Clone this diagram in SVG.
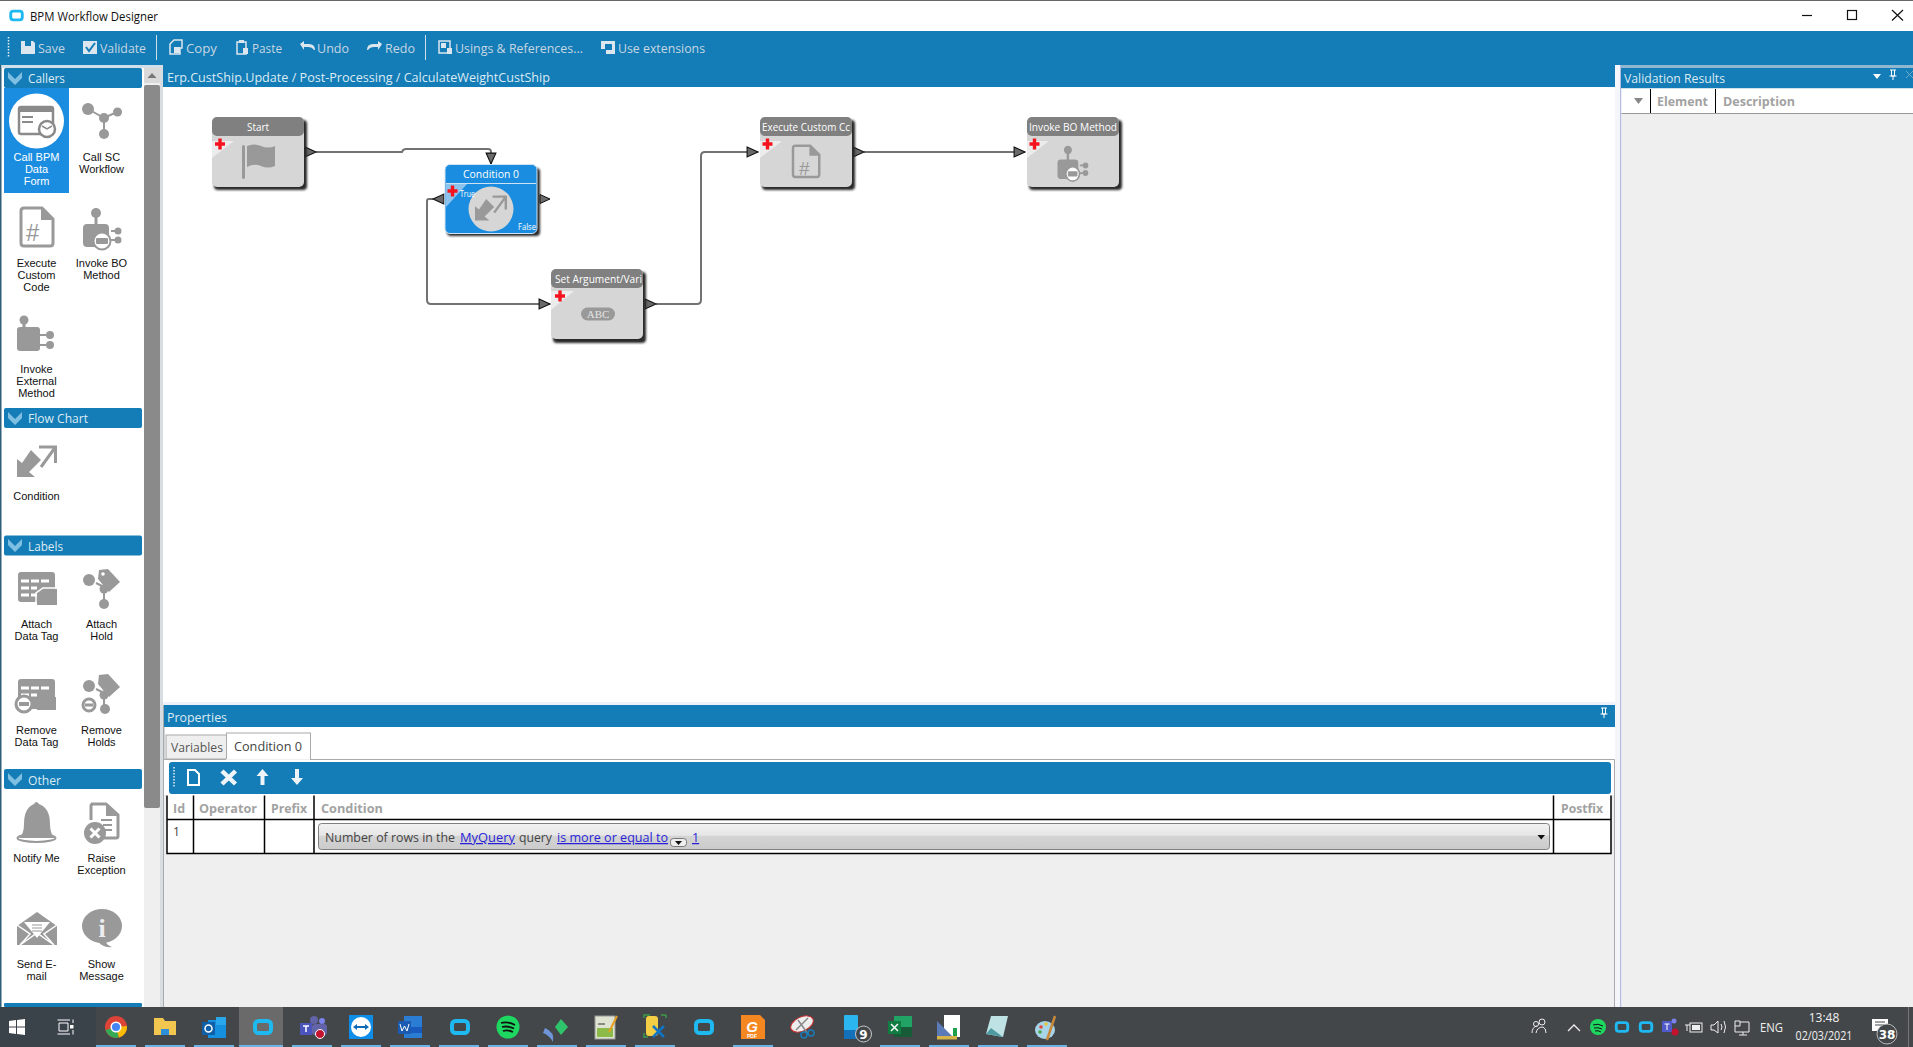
<svg xmlns="http://www.w3.org/2000/svg" width="1913" height="1047" viewBox="0 0 1913 1047">
<defs>
<style>
text{font-family:"Open Sans","Noto Sans","Liberation Sans",sans-serif}
text.sans{font-family:"Liberation Sans",Arial,sans-serif}
text.serif{font-family:"Liberation Serif","Times New Roman",serif}
text.mono{font-family:"DejaVu Sans",sans-serif}
.bar{fill:#147cb6}
.tb{font-size:13px;fill:#c6d7e3}
.hd{font-size:13px;fill:#dcebf4}
text.pal{font-family:"Liberation Sans",Arial,sans-serif;font-size:11px;fill:#111;text-anchor:middle}
text.pals{font-family:"Liberation Sans",Arial,sans-serif;font-size:11px;fill:#fff;text-anchor:middle}
.th{font-size:12.5px;font-weight:700;fill:#a2a2a2}
.ntitle{font-size:11.5px;fill:#fff}
.ic{fill:#999}
.ico{fill:none;stroke:#999;stroke-width:3}
.tbi{fill:#dbe6ee}
.tl{fill:none;stroke:#000;stroke-width:1.5}
.link{fill:#2a1fd8;text-decoration:underline}
.conn{fill:none;stroke:#727272;stroke-width:2;marker-start:url(#tri);marker-end:url(#tri)}
.port{fill:#6a6a6a;stroke:#111;stroke-width:1}
.cross{fill:#f5141e}
.tray{font-size:12px;fill:#f0f0f0}
.uline{fill:#6bb5e6}
.cyan{fill:none;stroke:#1db9f0;stroke-width:4}
</style>
<marker id="tri" markerUnits="userSpaceOnUse" markerWidth="12" markerHeight="12" refX="10" refY="5" orient="auto" viewBox="0 0 11 10" overflow="visible"><path d="M0 0.5L10 5L0 9.5Z" fill="#6a6a6a" stroke="#111" stroke-width="1"/></marker>
<filter id="sh" x="-10%" y="-10%" width="120%" height="120%"><feGaussianBlur stdDeviation="1"/></filter>
<linearGradient id="combo" x1="0" y1="0" x2="0" y2="1"><stop offset="0" stop-color="#f2f2f2"/><stop offset="0.45" stop-color="#e6e6e6"/><stop offset="0.5" stop-color="#d4d4d4"/><stop offset="1" stop-color="#cbcbcb"/></linearGradient>
<g id="cross"><path class="cross" d="M-1.7 -5.5H1.7V-1.7H5V1.7H1.7V5.5H-1.7V1.7H-5V-1.7H-1.7Z"/></g>
<g id="chev"><path d="M0 0L7 7L14 0V6L7 13L0 6Z" fill="#7fc0e2"/></g>
<g id="condI"><path class="ic" d="M0 14L5 18L14 5L24 15L12 27L18 32H0Z"/><path d="M22 2H38.5V18M38.5 2L24 22" fill="none" stroke="#999" stroke-width="3"/></g>
<g id="docI"><path d="M3 1H21L32 12V36Q32 39 29 39H3Q0 39 0 36V4Q0 1 3 1Z" fill="none" stroke="#999" stroke-width="3"/><path class="ic" d="M20 0L33 13H20Z"/></g>
<g id="boI"><circle class="ic" cx="13" cy="6" r="5"/><rect class="ic" x="11.500" y="10" width="3" height="8"/><path class="ic" d="M4 17H22Q26 17 26 21V30H12V40H4Q0 40 0 36V21Q0 17 4 17Z"/><circle cx="19" cy="34" r="8.500" fill="#fff" stroke="#999" stroke-width="2"/><rect class="ic" x="13" y="31" width="12" height="6" rx="1"/><path d="M28 24H32M28 33H32" stroke="#999" stroke-width="2"/><circle class="ic" cx="35" cy="24" r="3.500"/><circle class="ic" cx="35" cy="33" r="3.500"/></g>
<g id="cyanI"><rect class="cyan" x="-8" y="-6" width="16" height="12" rx="3.500"/></g>
</defs>

<rect width="1913" height="1047" fill="#fff"/>
<rect width="1913" height="1" fill="#666"/>
<g id="titlebar">
<use href="#cyanI" transform="translate(16.500,15.500) scale(.72)"/>
<text x="30" y="20.500" font-size="13" fill="#111" textLength="128" lengthAdjust="spacingAndGlyphs">BPM Workflow Designer</text>
<path d="M1802 15.500H1812" stroke="#111" stroke-width="1.200"/>
<rect x="1847.500" y="10.500" width="9" height="9" fill="none" stroke="#111" stroke-width="1.200"/>
<path d="M1892 10L1903 20.500M1903 10L1892 20.500" stroke="#111" stroke-width="1.200"/>
</g>

<rect class="bar" x="0" y="31" width="1913" height="34"/>
<rect class="bar" x="163" y="65" width="1452" height="22"/>
<rect x="0" y="65" width="163" height="942" fill="#fff"/>
<rect x="0" y="65" width="1.500" height="942" fill="#2f5f78"/>
<rect x="1.500" y="65" width="161" height="3" fill="#cfe0ea"/>
<rect x="160" y="65" width="3" height="942" fill="#d8dde2"/>

<g id="toolbar">
<path d="M8.500 37V57" stroke="#e8eef2" stroke-width="1.500" stroke-dasharray="1.500 1.500"/>
<path class="tbi" d="M21 41H33L35 43V54H21Z"/><rect x="25" y="41" width="6" height="5" fill="#147cb6"/>
<text class="tb" x="38" y="53" textLength="27" lengthAdjust="spacingAndGlyphs">Save</text>
<rect class="tbi" x="83" y="41" width="14" height="13"/><path d="M86 47L89 51L95 43" fill="none" stroke="#147cb6" stroke-width="2"/>
<text class="tb" x="100" y="53" textLength="46" lengthAdjust="spacingAndGlyphs">Validate</text>
<path d="M156.500 35V60" stroke="#cfe0ea"/>
<path d="M170 44L174 40H182V48H180V54H170Z" fill="none" stroke="#dbe6ee" stroke-width="1.500"/><rect class="tbi" x="174" y="47" width="6" height="6"/>
<text class="tb" x="186" y="53" textLength="31" lengthAdjust="spacingAndGlyphs">Copy</text>
<rect x="237" y="42" width="9" height="12" fill="none" stroke="#dbe6ee" stroke-width="1.500"/><rect class="tbi" x="239" y="40" width="5" height="3"/><rect class="tbi" x="243" y="48" width="5" height="6"/>
<text class="tb" x="252" y="53" textLength="30" lengthAdjust="spacingAndGlyphs">Paste</text>
<path class="tbi" d="M300 44L304 41V44H309Q315 44 315 50L314 50Q312 47 308 47H304V50Z"/>
<text class="tb" x="317" y="53" textLength="32" lengthAdjust="spacingAndGlyphs">Undo</text>
<path class="tbi" d="M382 44L378 41V44H373Q367 44 367 50L368 50Q370 47 374 47H378V50Z"/>
<text class="tb" x="385" y="53" textLength="30" lengthAdjust="spacingAndGlyphs">Redo</text>
<path d="M425.500 35V60" stroke="#cfe0ea"/>
<rect x="439" y="41" width="11" height="12" fill="none" stroke="#dbe6ee" stroke-width="1.500"/><path class="tbi" d="M441 43H446V48H441ZM447 48H452V54H447Z"/>
<text class="tb" x="455" y="53" textLength="128" lengthAdjust="spacingAndGlyphs">Usings &amp; References...</text>
<path class="tbi" d="M601 41H615V54H606V49H601Z"/><rect x="605" y="44" width="7" height="6" fill="#147cb6"/>
<text class="tb" x="618" y="53" textLength="87" lengthAdjust="spacingAndGlyphs">Use extensions</text>
</g>
<text class="hd" x="167" y="81.500" textLength="383" lengthAdjust="spacingAndGlyphs">Erp.CustShip.Update / Post-Processing / CalculateWeightCustShip</text>

<g id="palette">
<rect x="144" y="68" width="16" height="939" fill="#efefef"/>
<rect x="144" y="68" width="16" height="15" fill="#d9d9d9"/><path d="M147.500 78L152 73L156.500 78Z" fill="#777"/>
<rect x="144" y="85" width="16" height="723" rx="2" fill="#8a8a8a"/>
<g id="grp-callers"><rect class="bar" x="4" y="68" width="138" height="20" rx="2"/><use href="#chev" x="8" y="72"/><text class="hd" x="28" y="83" textLength="37" lengthAdjust="spacingAndGlyphs">Callers</text></g>
<g id="grp-flow"><rect class="bar" x="4" y="408" width="138" height="20" rx="2"/><use href="#chev" x="8" y="412"/><text class="hd" x="28" y="423" textLength="60" lengthAdjust="spacingAndGlyphs">Flow Chart</text></g>
<g id="grp-labels"><rect class="bar" x="4" y="535.500" width="138" height="20" rx="2"/><use href="#chev" x="8" y="539"/><text class="hd" x="28" y="551" textLength="35" lengthAdjust="spacingAndGlyphs">Labels</text></g>
<g id="grp-other"><rect class="bar" x="4" y="769" width="138" height="20" rx="2"/><use href="#chev" x="8" y="773"/><text class="hd" x="28" y="785" textLength="33" lengthAdjust="spacingAndGlyphs">Other</text></g>
<rect class="bar" x="4" y="1003" width="138" height="4" rx="1"/>

<g id="pal-callbpm"><rect x="4" y="88" width="65" height="105" fill="#1a8de0"/><ellipse cx="36.500" cy="121" rx="27.500" ry="27.500" fill="#fff"/>
<rect x="19" y="107" width="34" height="27" rx="2" fill="none" stroke="#8a8a8a" stroke-width="2.500"/><rect x="19" y="107" width="34" height="5" fill="#8a8a8a"/><path d="M22 117H33M22 122H33" stroke="#8a8a8a" stroke-width="2"/><circle cx="47" cy="129" r="8" fill="#fff" stroke="#8a8a8a" stroke-width="2.500"/><path d="M42 126L47 129L52 126" fill="none" stroke="#8a8a8a" stroke-width="1.500"/>
<text class="pals" x="36.500" y="161">Call BPM</text><text class="pals" x="36.500" y="173">Data</text><text class="pals" x="36.500" y="185">Form</text></g>
<g id="pal-callsc"><path d="M88 109L104 118L117 112M104 118V134" fill="none" stroke="#999" stroke-width="2"/><circle class="ic" cx="88" cy="109" r="6"/><circle class="ic" cx="117.500" cy="112" r="4.500"/><circle class="ic" cx="104" cy="118" r="5"/><circle class="ic" cx="104" cy="134" r="5"/>
<text class="pal" x="101.500" y="161">Call SC</text><text class="pal" x="101.500" y="173">Workflow</text></g>
<g id="pal-exec"><use href="#docI" transform="translate(21,207)"/><text class="sans" x="26" y="241" font-size="24" fill="#999">#</text>
<text class="pal" x="36.500" y="267">Execute</text><text class="pal" x="36.500" y="279">Custom</text><text class="pal" x="36.500" y="291">Code</text></g>
<g id="pal-invbo"><use href="#boI" transform="translate(83,207)"/><text class="pal" x="101.500" y="267">Invoke BO</text><text class="pal" x="101.500" y="279">Method</text></g>
<g id="pal-invext"><circle class="ic" cx="24" cy="320" r="4.500"/><rect class="ic" x="22.500" y="322" width="3" height="6"/><rect class="ic" x="17" y="327" width="23" height="24" rx="3"/><path d="M40 335H46M40 345H46" stroke="#999" stroke-width="2"/><circle class="ic" cx="50" cy="335" r="4"/><circle class="ic" cx="50" cy="345" r="4"/>
<text class="pal" x="36.500" y="373">Invoke</text><text class="pal" x="36.500" y="385">External</text><text class="pal" x="36.500" y="397">Method</text></g>
<g id="pal-cond"><use href="#condI" transform="translate(17,445)"/><text class="pal" x="36.500" y="500">Condition</text></g>
<g id="pal-adt"><rect x="18" y="572" width="37" height="30" rx="3" class="ic"/><path d="M21 581H51M21 588H37M21 595H37" stroke="#fff" stroke-width="3" stroke-dasharray="8 2"/><path class="ic" d="M37 594L43 589H57V605H37Z"/><path d="M36 606V593L43 588H58" fill="none" stroke="#fff" stroke-width="1.500"/><text class="pal" x="36.500" y="628">Attach</text><text class="pal" x="36.500" y="640">Data Tag</text></g>
<g id="pal-ah"><circle class="ic" cx="89" cy="580" r="6"/><path d="M96 583L104 587M104 590V602" stroke="#999" stroke-width="2"/><circle class="ic" cx="104" cy="589" r="4.500"/><circle class="ic" cx="104" cy="604" r="5"/><path class="ic" d="M99 570L108 569L120 582L109 592L98 579Z"/><circle cx="103" cy="574" r="1.800" fill="#fff"/><text class="pal" x="101.500" y="628">Attach</text><text class="pal" x="101.500" y="640">Hold</text></g>
<g id="pal-rdt"><rect x="18" y="679" width="37" height="30" rx="3" class="ic"/><path d="M21 688H51M21 695H37" stroke="#fff" stroke-width="3" stroke-dasharray="8 2"/><rect class="ic" x="37" y="697" width="19" height="13"/><circle cx="24" cy="704" r="8" fill="#fff" stroke="#999" stroke-width="3"/><rect class="ic" x="19" y="702" width="10" height="4"/><text class="pal" x="36.500" y="734">Remove</text><text class="pal" x="36.500" y="746">Data Tag</text></g>
<g id="pal-rh"><circle class="ic" cx="89" cy="686" r="6"/><path d="M96 689L104 693M104 696V706" stroke="#999" stroke-width="2"/><circle class="ic" cx="104" cy="695" r="4.500"/><circle class="ic" cx="105" cy="709" r="5"/><path class="ic" d="M99 675L108 674L120 687L109 697L98 684Z"/><circle cx="89" cy="705" r="6" fill="#fff" stroke="#999" stroke-width="3"/><rect class="ic" x="85" y="703.500" width="8" height="3"/><text class="pal" x="101.500" y="734">Remove</text><text class="pal" x="101.500" y="746">Holds</text></g>
<g id="pal-notify"><path class="ic" d="M34 804Q36 800 39 804Q50 808 50 824Q50 834 55 838H19Q24 834 24 824Q24 808 34 804Z"/><ellipse cx="36.500" cy="838" rx="19" ry="4" fill="none" stroke="#999" stroke-width="2"/><text class="pal" x="36.500" y="862">Notify Me</text></g>
<g id="pal-raise"><path d="M91 804H106L118 815V836Q118 838 116 838H102M91 820V806Q91 804 93 804" fill="none" stroke="#999" stroke-width="3"/><path class="ic" d="M106 803L119 816H106Z"/><path d="M101 820H112M103 825H112M103 830H112" stroke="#999" stroke-width="2"/><circle class="ic" cx="95" cy="833" r="11"/><path d="M90.500 828.500L99.500 837.500M99.500 828.500L90.500 837.500" stroke="#fff" stroke-width="3"/><text class="pal" x="101.500" y="862">Raise</text><text class="pal" x="101.500" y="874">Exception</text></g>
<g id="pal-email"><path class="ic" d="M17 926L37 912L57 926V945H17Z"/><path d="M17 925L30 934L20 945M57 925L44 934L54 945M20 945L37 933L54 945" fill="none" stroke="#fff" stroke-width="1.500"/><path fill="#fff" d="M24 922H50L37 938Z"/><path d="M32 925H42M32 928H42M32 931H42" stroke="#999"/><text class="pal" x="36.500" y="968">Send E-</text><text class="pal" x="36.500" y="980">mail</text></g>
<g id="pal-msg"><ellipse class="ic" cx="102" cy="926" rx="20" ry="17"/><path class="ic" d="M105 940Q106 945 112 947Q102 948 98 941Z"/><text class="serif" x="102" y="937" font-size="26" font-weight="700" fill="#eee" text-anchor="middle">i</text><text class="pal" x="101.500" y="968">Show</text><text class="pal" x="101.500" y="980">Message</text></g>
</g>

<g id="connectors">
<path class="conn" d="M316 152H402Q403 149 406 149H488Q491 149 491 152V164"/>
<path class="conn" d="M433 199H429Q427 199 427 201V300Q427 304 431 304H550"/>
<path class="conn" d="M656 304H697Q701 304 701 300V156Q701 152 705 152H758"/>
<path class="conn" d="M864 152H1025"/>
</g>

<g id="node-start">
<rect x="214" y="120" width="93" height="70" rx="4" fill="#2a2a2a" filter="url(#sh)"/>
<rect x="212" y="117" width="92" height="70" rx="5" fill="#d6d6d6"/>
<path d="M212 158V141H234Z" fill="#ececec"/>
<rect x="212" y="117" width="92" height="19" rx="5" fill="#808080"/>
<text class="ntitle" x="247" y="131" textLength="22" lengthAdjust="spacingAndGlyphs">Start</text>
<use href="#cross" x="220" y="144"/>
<rect class="ic" x="242" y="145" width="3" height="34" rx="1.500"/><path class="ic" d="M247 146Q254 143 261 146Q268 149 275 146V166Q268 169 261 166Q254 163 247 167Z"/>
</g>

<g id="node-condition">
<rect x="447" y="168" width="93" height="68" rx="4" fill="#2a2a2a" filter="url(#sh)"/>
<rect x="445" y="164.500" width="92" height="69" rx="5" fill="#1a8de0" stroke="#cfe3f2"/>
<path d="M446 207V184H467Z" fill="#8cc4ee"/>
<path d="M446 183.500H536" stroke="#cde3f3" stroke-width="1"/>
<text class="ntitle" x="463" y="178" textLength="56" lengthAdjust="spacingAndGlyphs">Condition 0</text>
<use href="#cross" x="452.500" y="191"/>
<circle cx="491" cy="209" r="22.500" fill="#d6d6d6"/>
<use href="#condI" transform="translate(475,195) scale(.8)"/>
<text x="460" y="197" font-size="9" fill="#fff" textLength="15" lengthAdjust="spacingAndGlyphs">True</text>
<text x="518" y="230" font-size="9" fill="#fff" textLength="18" lengthAdjust="spacingAndGlyphs">False</text>
<path class="port" d="M540 194.500L550 199L540 203.500Z"/>
</g>

<g id="node-setarg">
<rect x="553" y="272" width="93" height="71" rx="4" fill="#2a2a2a" filter="url(#sh)"/>
<rect x="551" y="269" width="92" height="70" rx="5" fill="#d6d6d6"/>
<path d="M551 310V291H574Z" fill="#ececec"/>
<rect x="551" y="269" width="92" height="19" rx="5" fill="#808080"/>
<text class="ntitle" x="555" y="283" textLength="87" lengthAdjust="spacingAndGlyphs">Set Argument/Vari</text>
<use href="#cross" x="560" y="296"/>
<rect class="ic" x="581" y="307.500" width="34" height="13" rx="6.500"/>
<text class="serif" x="598" y="318" font-size="11" fill="#e3e3e3" text-anchor="middle">ABC</text>
</g>

<g id="node-exec">
<rect x="762" y="120" width="93" height="70" rx="4" fill="#2a2a2a" filter="url(#sh)"/>
<rect x="760" y="117" width="92" height="70" rx="5" fill="#d6d6d6"/>
<path d="M760 158V141H782Z" fill="#ececec"/>
<rect x="760" y="117" width="92" height="19" rx="5" fill="#808080"/>
<text class="ntitle" x="762" y="131" textLength="88" lengthAdjust="spacingAndGlyphs">Execute Custom Cc</text>
<use href="#cross" x="767.500" y="144"/>
<use href="#docI" transform="translate(793,145) scale(.82)"/>
<text class="sans" x="799" y="175" font-size="19" fill="#999">#</text>
</g>

<g id="node-invoke">
<rect x="1029" y="120" width="93" height="70" rx="4" fill="#2a2a2a" filter="url(#sh)"/>
<rect x="1027" y="117" width="92" height="70" rx="5" fill="#d6d6d6"/>
<path d="M1027 158V141H1049Z" fill="#ececec"/>
<rect x="1027" y="117" width="92" height="19" rx="5" fill="#808080"/>
<text class="ntitle" x="1029" y="131" textLength="88" lengthAdjust="spacingAndGlyphs">Invoke BO Method</text>
<use href="#cross" x="1034.500" y="144"/>
<use href="#boI" transform="translate(1057.500,145) scale(.8,.85)"/>
</g>

<g id="properties">
<rect x="163" y="702" width="1457" height="3" fill="#eef0fb"/>
<rect x="163" y="705" width="1452" height="302" fill="#fff"/>
<rect x="163" y="705" width="1.500" height="302" fill="#aaa"/>
<rect class="bar" x="164" y="705" width="1451" height="22"/>
<text class="hd" x="167" y="722" textLength="60" lengthAdjust="spacingAndGlyphs">Properties</text>
<path d="M1601 708H1607M1602.500 708V714H1605.500V708M1600.500 714H1607.500M1604 714V718" fill="none" stroke="#fff"/>
<rect x="166" y="735" width="61" height="24" fill="#efefef" stroke="#aaa"/>
<text x="171" y="752" font-size="13" fill="#555" textLength="52" lengthAdjust="spacingAndGlyphs">Variables</text>
<rect x="226.500" y="733" width="84" height="27" fill="#fff" stroke="#aaa"/>
<rect x="227.500" y="758" width="82.500" height="3" fill="#fff"/>
<text x="234" y="751" font-size="13" fill="#444" textLength="68" lengthAdjust="spacingAndGlyphs">Condition 0</text>
<rect x="164" y="759" width="1451" height="248" fill="#efefef"/>
<path d="M164 759.500H226M310 759.500H1614.500V1007" fill="none" stroke="#aaa"/>
<rect x="164" y="760" width="1450" height="35" fill="#fff"/>
<rect class="bar" x="169" y="762" width="1442" height="32" rx="3"/>
<path d="M174 767V788" stroke="#e8eef2" stroke-width="1.500" stroke-dasharray="1.500 1.500"/>
<path d="M188 770H195L199 774V785H188Z" fill="none" stroke="#fff" stroke-width="2"/>
<path d="M222 771L235.500 784M235.500 771L222 784" stroke="#eef4f8" stroke-width="4.500"/>
<path d="M262.500 769L268.500 776H264.500V785H260.500V776H256.500Z" fill="#eef4f8"/>
<path d="M297 785L303 778H299V769H295V778H291Z" fill="#eef4f8"/>
<rect x="167" y="795" width="1444" height="58.500" fill="#fff"/>
<path class="tl" d="M167 795.500V853.500H1611V795.500M193.500 795.500V853.500M264.500 795.500V853.500M314 795.500V853.500M1553.500 795.500V853.500M167 819.500H1611"/>
<text class="th" x="173" y="813">Id</text>
<text class="th" x="199" y="813" textLength="58" lengthAdjust="spacingAndGlyphs">Operator</text>
<text class="th" x="271" y="813" textLength="36" lengthAdjust="spacingAndGlyphs">Prefix</text>
<text class="th" x="321" y="813" textLength="62" lengthAdjust="spacingAndGlyphs">Condition</text>
<text class="th" x="1561" y="813" textLength="42" lengthAdjust="spacingAndGlyphs">Postfix</text>
<text x="173" y="836" font-size="12" fill="#444">1</text>
<rect x="318.500" y="823.500" width="1231" height="26" rx="3" fill="url(#combo)" stroke="#808080"/>
<text x="325" y="842" font-size="12.500" fill="#444" textLength="130" lengthAdjust="spacingAndGlyphs">Number of rows in the</text>
<text class="link" x="460" y="842" font-size="12.500" textLength="55" lengthAdjust="spacingAndGlyphs">MyQuery</text>
<text x="519" y="842" font-size="12.500" fill="#444" textLength="33" lengthAdjust="spacingAndGlyphs">query</text>
<text class="link" x="557" y="842" font-size="12.500" textLength="111" lengthAdjust="spacingAndGlyphs">is more or equal to</text>
<rect x="670.500" y="838.500" width="16" height="8" rx="3" fill="#eee" stroke="#777"/><path d="M675 841H682L678.500 845Z" fill="#111"/>
<text class="link" x="692" y="842" font-size="12.500">1</text>
<path d="M1537.500 835H1545L1541.250 839.500Z" fill="#111"/>
</g>

<g id="validation">
<rect x="1615" y="65" width="5" height="942" fill="#f5f6fc"/>
<rect x="1620" y="65" width="1.500" height="942" fill="#b4bde0"/>
<rect x="1621" y="65" width="292" height="3" fill="#8fb7cf"/>
<rect class="bar" x="1621" y="68" width="292" height="20"/>
<rect x="1621" y="88" width="292" height="1" fill="#cfe0ea"/>
<text class="hd" x="1624" y="83" textLength="101" lengthAdjust="spacingAndGlyphs">Validation Results</text>
<path d="M1873 74H1881L1877 79Z" fill="#fff"/>
<path d="M1890 70H1896M1891.500 70V76H1894.500V70M1889.500 76H1896.500M1893 76V80" fill="none" stroke="#fff"/>
<path d="M1906 71L1913 78M1913 71L1906 78" stroke="#6fa9cb"/>
<rect x="1621.500" y="89" width="291.500" height="24" fill="#fff"/>
<rect x="1621.500" y="113" width="291.500" height="894" fill="#efefef"/>
<path d="M1621.500 113.500H1913" stroke="#999"/>
<path d="M1650.500 89V113M1715.500 89V113" stroke="#000"/>
<path d="M1634 98H1643L1638.500 104Z" fill="#888"/>
<text class="th" x="1657" y="106" textLength="51" lengthAdjust="spacingAndGlyphs">Element</text>
<text class="th" x="1723" y="106" textLength="72" lengthAdjust="spacingAndGlyphs">Description</text>
</g>

<g id="taskbar">
<rect x="0" y="1007" width="1913" height="40" fill="#43474a"/>
<rect x="0" y="1007" width="96" height="40" fill="#3a434a"/>
<rect x="239" y="1007" width="44" height="40" fill="#6a6a6a"/>
<path d="M9 1021L16 1020V1026.500H9ZM17 1020L25 1019V1026.500H17ZM9 1027.500H16V1034L9 1033ZM17 1027.500H25V1035L17 1034Z" fill="#fff"/>
<path d="M57.500 1020H70M57.500 1034H70M59 1023H68V1031H59ZM73 1019.500V1023M73 1030V1034.500" fill="none" stroke="#fff"/><rect x="70" y="1025" width="3.500" height="3.500" fill="#fff"/>
<circle cx="116" cy="1027" r="11" fill="#db4437"/><path d="M116 1027L105.500 1030A11 11 0 0 0 119 1037.500Z" fill="#34a853"/><path d="M116 1027L119 1037.500A11 11 0 0 0 127 1026Z" fill="#fbbc05"/><circle cx="116" cy="1027" r="4.800" fill="#4285f4" stroke="#fff" stroke-width="1.500"/>
<path d="M154 1018H163L165 1021H176V1035H154Z" fill="#f3c64f"/><rect x="161" y="1029" width="8" height="6" fill="#2d8fd8"/>
<rect x="208" y="1020" width="18" height="18" fill="#1490df"/><rect x="216" y="1017" width="10" height="8" fill="#28a8ea"/><rect x="202" y="1022" width="13" height="13" fill="#0f5fa8"/><circle cx="208.500" cy="1028.500" r="3.500" fill="none" stroke="#fff" stroke-width="1.500"/>
<use href="#cyanI" x="263" y="1027"/>
<circle cx="322" cy="1021" r="3" fill="#7b83eb"/><circle cx="314" cy="1020" r="4" fill="#6264a7"/><rect x="312" y="1024" width="15" height="11" rx="3" fill="#6264a7"/><rect x="300" y="1023" width="12" height="12" fill="#4b53bc"/><path d="M303 1026H309M306 1026V1032" stroke="#fff" stroke-width="1.500"/><circle cx="320" cy="1034" r="4.500" fill="#c4122f" stroke="#fff"/>
<rect x="349" y="1015" width="24" height="24" fill="#0e8ee9"/><circle cx="361" cy="1027" r="10" fill="#fff"/><path d="M353 1027L357 1024V1026H365V1024L369 1027L365 1030V1028H357V1030Z" fill="#0e6bb8"/>
<rect x="404" y="1016" width="18" height="22" fill="#2b7cd3"/><rect x="404" y="1027" width="18" height="6" fill="#185abd"/><rect x="398" y="1021" width="13" height="13" fill="#1a5ab0"/><path d="M400 1024L402 1031L404.500 1026L407 1031L409 1024" fill="none" stroke="#fff"/>
<use href="#cyanI" x="460" y="1027"/>
<circle cx="508" cy="1027" r="11.500" fill="#1ed760"/><path d="M501 1023Q508 1021 515 1025M502 1027Q508 1025.500 514 1028.500M503 1031Q508 1029.500 513 1032" fill="none" stroke="#111" stroke-width="1.800"/>
<path d="M561 1019L568 1027L561 1035L555 1027Z" fill="#2fc46b"/><path d="M545 1028Q555 1032 553 1042Q549 1035 543 1033Z" fill="#6f95d8"/>
<rect x="595" y="1016" width="20" height="23" fill="#dfe3d2" stroke="#9a9a9a"/><rect x="597" y="1028" width="16" height="9" fill="#8dbb4a"/><path d="M598 1024H605" stroke="#333"/><path d="M617 1016L609 1032" stroke="#e8a020" stroke-width="2"/>
<rect x="646" y="1016" width="12" height="20" rx="3" fill="#f4cf45"/><path d="M644 1018V1015H650M666 1015V1018M661 1015H666M644 1033V1037H648" fill="none" stroke="#3d9a48" stroke-width="1.500"/><path d="M653 1037L664 1026M653 1026L664 1037" stroke="#1274c4" stroke-width="2.500"/>
<use href="#cyanI" x="704" y="1027"/>
<path d="M741 1015H760L765 1020V1039H741Z" fill="#f48720"/><text class="sans" x="752" y="1032" font-size="15" font-weight="700" font-style="italic" fill="#fff" text-anchor="middle">G</text><text class="sans" x="752" y="1038" font-size="5" font-weight="700" fill="#fff" text-anchor="middle">PDF</text>
<ellipse cx="802" cy="1024" rx="12" ry="7" transform="rotate(-25 802 1024)" fill="#eee" stroke="#c33" stroke-width="1"/><path d="M796 1030L808 1018M808 1034L798 1020" stroke="#888" stroke-width="1.500"/><circle cx="804" cy="1035" r="3" fill="none" stroke="#1c7ab8" stroke-width="1.500"/><circle cx="811" cy="1033" r="3" fill="none" stroke="#1c7ab8" stroke-width="1.500"/>
<rect x="844" y="1015" width="14" height="24" rx="1" fill="#2cb6ef"/><rect x="844" y="1030" width="14" height="9" fill="#1470b8"/>
<circle cx="863.500" cy="1034" r="8" fill="#43474a" stroke="#c8c8c8"/><text class="mono" x="863.500" y="1039" font-size="12" font-weight="700" fill="#fff" text-anchor="middle">9</text>
<rect x="894" y="1016" width="18" height="21" fill="#21a366"/><rect x="894" y="1027" width="18" height="10" fill="#185c37"/><rect x="888" y="1021" width="13" height="13" fill="#107c41"/><path d="M891 1024L898 1031M898 1024L891 1031" stroke="#fff" stroke-width="1.500"/>
<rect x="944" y="1015" width="16" height="22" fill="#fff"/><path d="M937 1036V1021L952 1036Z" fill="#5b7bb8"/><rect x="937" y="1036" width="20" height="3.500" fill="#d6b44a"/><rect x="953" y="1028" width="4" height="8" fill="#1fa04c"/>
<path d="M991 1016H1008L1003 1037L986 1034Z" fill="#bfe3e4"/><path d="M986 1034L991 1028L1003 1037Z" fill="#4f9aa2"/>
<ellipse cx="1045" cy="1030" rx="10" ry="9" fill="#a8d4e8"/><circle cx="1041" cy="1027" r="1.800" fill="#e24a3a"/><circle cx="1046" cy="1024" r="1.800" fill="#e8c53a"/><circle cx="1040" cy="1032" r="1.800" fill="#4aa84a"/><path d="M1047 1040L1055 1016" stroke="#c8883a" stroke-width="2.500"/>
<g class="uline">
<rect x="96" y="1045" width="40" height="2"/><rect x="145" y="1045" width="40" height="2"/><rect x="194" y="1045" width="40" height="2"/><rect x="239" y="1045" width="44" height="2"/><rect x="292" y="1045" width="40" height="2"/><rect x="341" y="1045" width="40" height="2"/><rect x="390" y="1045" width="40" height="2"/><rect x="439" y="1045" width="40" height="2"/><rect x="488" y="1045" width="40" height="2"/><rect x="537" y="1045" width="40" height="2"/><rect x="586" y="1045" width="40" height="2"/><rect x="635" y="1045" width="40" height="2"/><rect x="733" y="1045" width="40" height="2"/><rect x="880" y="1045" width="40" height="2"/><rect x="929" y="1045" width="40" height="2"/><rect x="978" y="1045" width="40" height="2"/><rect x="1027" y="1045" width="40" height="2"/>
</g>
<path d="M1532 1033Q1532 1027 1537 1026M1536 1033Q1537 1027 1543 1027Q1546 1028 1546 1033" fill="none" stroke="#eee"/><circle cx="1536" cy="1024" r="2.500" fill="none" stroke="#eee"/><circle cx="1542" cy="1022" r="3" fill="none" stroke="#eee"/>
<path d="M1568 1031L1574 1025L1580 1031" fill="none" stroke="#eee" stroke-width="1.300"/>
<circle cx="1598" cy="1027" r="8" fill="#1ed760"/><path d="M1593 1025Q1598 1023 1603 1026M1594 1028Q1598 1027 1602 1029M1595 1031Q1598 1030 1601 1032" fill="none" stroke="#111"/>
<use href="#cyanI" transform="translate(1622,1027) scale(.72)"/><use href="#cyanI" transform="translate(1646,1027) scale(.72)"/>
<circle cx="1674" cy="1021" r="2.500" fill="#7b83eb"/><rect x="1662" y="1021" width="10" height="11" fill="#5059c9"/><path d="M1664.500 1024H1669.500M1667 1024V1030" stroke="#fff"/><circle cx="1675" cy="1032" r="3.500" fill="#c4122f"/>
<rect x="1690" y="1023" width="12" height="9" fill="none" stroke="#eee"/><rect x="1692" y="1025" width="8" height="5" fill="#eee"/><path d="M1687 1025V1031M1685 1025H1690" stroke="#eee"/>
<path d="M1711 1025H1714L1718 1021V1033L1714 1030H1711ZM1721 1024Q1723 1027 1721 1030M1724 1021Q1727 1027 1724 1033" fill="none" stroke="#eee"/>
<path d="M1735 1021H1740V1026H1735ZM1740 1022H1749V1032H1735V1026M1743 1032V1035M1739 1035H1747" fill="none" stroke="#eee"/>
<text class="tray" x="1760" y="1031.500" textLength="23" lengthAdjust="spacingAndGlyphs">ENG</text>
<text class="tray" x="1824" y="1022" text-anchor="middle">13:48</text>
<text class="tray" x="1824" y="1040" text-anchor="middle" textLength="57" lengthAdjust="spacingAndGlyphs">02/03/2021</text>
<path d="M1872 1019H1888V1031H1872Z" fill="#fff"/><path d="M1875 1022H1885M1875 1025H1885" stroke="#43474a"/>
<circle cx="1887" cy="1034" r="10" fill="#43474a" stroke="#b8b8b8"/><text class="mono" x="1887" y="1039" font-size="12" font-weight="700" fill="#fff" text-anchor="middle">38</text>
<path d="M1908.500 1007V1047" stroke="#777"/>
</g>
</svg>
